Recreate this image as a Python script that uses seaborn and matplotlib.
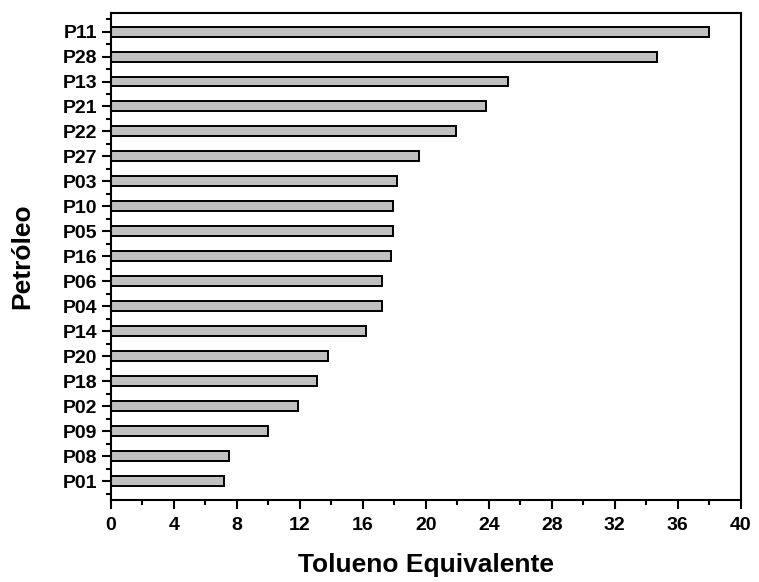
import matplotlib
matplotlib.use("Agg")
import matplotlib.pyplot as plt
from matplotlib.ticker import MultipleLocator, FixedLocator
import seaborn as sns
import pandas as pd

# Crude oil samples and their toluene-equivalent values
petroleos = ["P11", "P28", "P13", "P21", "P22", "P27", "P03", "P10", "P05", "P16",
             "P06", "P04", "P14", "P20", "P18", "P02", "P09", "P08", "P01"]
tolueno_eq = [38.0, 34.7, 25.2, 23.8, 21.9, 19.6, 18.2, 17.9, 17.9, 17.8,
              17.2, 17.2, 16.2, 13.8, 13.1, 11.9, 10.0, 7.5, 7.2]
x_ticks = [0, 4, 8, 12, 16, 20, 24, 28, 32, 36, 40]

df = pd.DataFrame({"Petróleo": petroleos, "Tolueno Equivalente": tolueno_eq})

sns.set_theme(style="ticks")
plt.rcParams["font.family"] = ["Liberation Sans", "DejaVu Sans"]
plt.rcParams["font.weight"] = "bold"
plt.rcParams["text.color"] = "black"
plt.rcParams["axes.labelcolor"] = "black"

fig = plt.figure(figsize=(7.59, 5.82), dpi=100)
ax = fig.add_axes([0.146, 0.141, 0.830, 0.837])

sns.barplot(data=df, x="Tolueno Equivalente", y="Petróleo", order=petroleos,
            orient="h", color="#c0c0c0", saturation=1, width=0.4,
            edgecolor="black", linewidth=1.4, ax=ax)

ax.set_xlim(0, 40)
ax.set_ylim(len(petroleos) - 0.25, -0.75)
ax.xaxis.set_major_locator(FixedLocator(x_ticks))
ax.xaxis.set_minor_locator(MultipleLocator(2))
ax.yaxis.set_minor_locator(FixedLocator([i - 0.5 for i in range(len(petroleos) + 1)]))

for side in ["left", "right", "top", "bottom"]:
    ax.spines[side].set_visible(True)
    ax.spines[side].set_linewidth(1.5)
    ax.spines[side].set_color("black")

ax.tick_params(axis="both", which="major", direction="out", length=6.5, width=1.5,
               labelsize=14, colors="black", right=False, top=False, pad=3)
ax.tick_params(axis="both", which="minor", direction="out", length=3.5, width=1.5,
               colors="black", right=False, top=False)
ax.tick_params(axis="x", which="major", pad=6)
for lbl in ax.get_xticklabels() + ax.get_yticklabels():
    lbl.set_fontweight("bold")

ax.set_xlabel("Tolueno Equivalente", fontsize=19, fontweight="bold")
ax.set_ylabel("Petróleo", fontsize=19, fontweight="bold")
ax.xaxis.set_label_coords(0.5, -0.108)
ax.yaxis.set_label_coords(-0.122, 0.5)

fig.savefig("out.png", dpi=100, facecolor="white")
